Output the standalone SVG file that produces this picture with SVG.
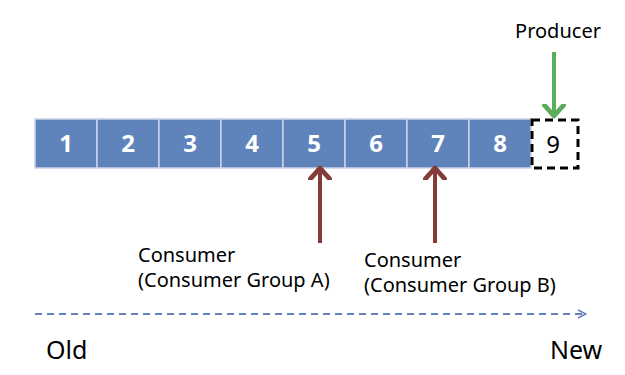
<svg xmlns="http://www.w3.org/2000/svg" width="625" height="375" viewBox="0 0 625 375">
<style>
.box{fill:#5F83BB;stroke:#C9D4E8;stroke-width:1.5}
.num{font-family:"Noto Sans","Open Sans",sans-serif;font-size:24px;font-weight:bold;fill:#fff;text-anchor:middle}
.lbl{font-family:"Noto Sans","Open Sans",sans-serif;font-size:20px;fill:#000}
.big{font-family:"Noto Sans","Open Sans",sans-serif;font-size:25px;fill:#000}
</style>
<defs>
<marker id="hr" markerWidth="6" markerHeight="6" refX="3" refY="3" orient="auto" markerUnits="strokeWidth" viewBox="0 0 6 6"><path d="M0.3,0.6 L3,3 L0.3,5.4" fill="none" stroke="#843C39" stroke-width="1.2" stroke-linecap="round" stroke-linejoin="round"/></marker>
<marker id="hg" markerWidth="6" markerHeight="6" refX="3" refY="3" orient="auto" markerUnits="strokeWidth" viewBox="0 0 6 6"><path d="M0.3,0.6 L3,3 L0.3,5.4" fill="none" stroke="#5BAD5B" stroke-width="1.2" stroke-linecap="round" stroke-linejoin="round"/></marker>
<marker id="hb" markerWidth="10" markerHeight="10" refX="9" refY="5" orient="auto" markerUnits="userSpaceOnUse" viewBox="0 0 10 10"><path d="M1,1 L9,5 L1,9" fill="none" stroke="#6482BE" stroke-width="1.5"/></marker>
</defs>
<g id="log">
<g id="n1"><rect class="box" x="35" y="119" width="62" height="49"/><text class="num" x="66" y="152">1</text></g>
<g id="n2"><rect class="box" x="97" y="119" width="62" height="49"/><text class="num" x="128" y="152">2</text></g>
<g id="n3"><rect class="box" x="159" y="119" width="62" height="49"/><text class="num" x="190" y="152">3</text></g>
<g id="n4"><rect class="box" x="221" y="119" width="62" height="49"/><text class="num" x="252" y="152">4</text></g>
<g id="n5"><rect class="box" x="283" y="119" width="62" height="49"/><text class="num" x="314" y="152">5</text></g>
<g id="n6"><rect class="box" x="345" y="119" width="62" height="49"/><text class="num" x="376" y="152">6</text></g>
<g id="n7"><rect class="box" x="407" y="119" width="62" height="49"/><text class="num" x="438" y="152">7</text></g>
<g id="n8"><rect class="box" x="469" y="119" width="62" height="49"/><text class="num" x="500" y="152">8</text></g>
<g id="n9"><rect x="532" y="120" width="46" height="48" fill="#fff" stroke="#000" stroke-width="3" stroke-dasharray="8,5"/><text x="553" y="153" font-family="Noto Sans,Open Sans,sans-serif" font-size="24" text-anchor="middle" fill="#000">9</text></g>
</g>
<g id="producer"><text class="lbl" x="558" y="38" text-anchor="middle">Producer</text></g>
<g id="consumerA"><text class="lbl" x="138" y="262">Consumer<tspan x="138" dy="25">(Consumer Group A)</tspan></text></g>
<g id="consumerB"><text class="lbl" x="364" y="267">Consumer<tspan x="364" dy="25">(Consumer Group B)</tspan></text></g>
<g id="old"><text class="big" x="46" y="359">Old</text></g>
<g id="new"><text class="big" x="550" y="359">New</text></g>
<g id="connectors">
<line x1="320" y1="243" x2="320" y2="168" stroke="#843C39" stroke-width="4" marker-end="url(#hr)"/>
<line x1="435" y1="243" x2="435" y2="168" stroke="#843C39" stroke-width="4" marker-end="url(#hr)"/>
<line x1="554" y1="52" x2="554" y2="116" stroke="#5BAD5B" stroke-width="4" marker-end="url(#hg)"/>
<line x1="35" y1="314" x2="586" y2="314" stroke="#6482BE" stroke-width="2" stroke-dasharray="7,5" marker-end="url(#hb)"/>
</g>
</svg>
